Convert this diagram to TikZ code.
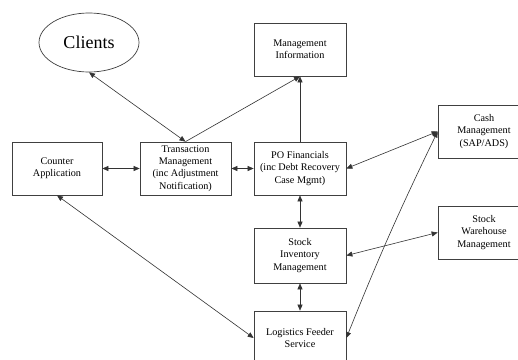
\documentclass[tikz,border=0pt]{standalone}
\usepackage{fontspec}
\setmainfont{Liberation Serif}
\usetikzlibrary{arrows.meta,shapes.geometric}
\begin{document}
\begin{tikzpicture}[x=1pt,y=-1pt,
  box/.style={draw=black!75,line width=0.7pt,minimum width=92pt,minimum height=53pt,
    inner sep=0pt,align=center,font=\fontsize{10.2}{12.4}\selectfont},
  link/.style={draw=black!80,line width=0.6pt,
    {Triangle[length=6pt,width=5pt]}-{Triangle[length=6pt,width=5pt]}},
  uplink/.style={draw=black!80,line width=0.6pt,-{Triangle[length=6pt,width=5pt]}}]
\useasboundingbox (0,0) rectangle (518,359);
\clip (0,0) rectangle (518,359);
\fill[white] (0,0) rectangle (518,359);

% actors and systems
\node[ellipse,draw=black!75,line width=0.7pt,minimum width=100pt,minimum height=59pt,
  inner sep=0pt,font=\fontsize{18}{20}\selectfont] (clients) at (89,42.5) {Clients};
\node[box] (mi) at (300,49.5) {Management\\Information};
\node[box,minimum width=90pt] (counter) at (57,168.5) {Counter\\Application};
\node[box,minimum width=91pt] (tm) at (185.5,168.5) {Transaction\\Management\\(inc Adjustment\\Notification)};
\node[box] (po) at (300,168.5) {PO Financials\\(inc Debt Recovery\\Case Mgmt)};
\node[box] (cash) at (484,131.5) {Cash\\Management\\(SAP/ADS)};
\node[box,minimum height=55pt] (si) at (300,255.5) {Stock\\Inventory\\Management};
\node[box] (sw) at (484,232.5) {Stock\\Warehouse\\Management};
\node[box,minimum height=54pt] (lf) at (300,338) {Logistics Feeder\\Service};

% interfaces
\draw[link] (clients.south) -- (tm.north);
\draw[uplink] (tm.north) -- (mi.south);
\draw[uplink] (po.north) -- (mi.south);
\draw[link] (counter.east) -- (tm.west);
\draw[link] (tm.east) -- (po.west);
\draw[link] (po.east) -- (cash.west);
\draw[link] (po.south) -- (si.north);
\draw[link] (si.east) -- (sw.west);
\draw[link] (si.south) -- (lf.north);
\draw[link] (counter.south) -- (lf.west);
\draw[link] (cash.west) to[bend right=2] (lf.east);
\end{tikzpicture}
\end{document}
